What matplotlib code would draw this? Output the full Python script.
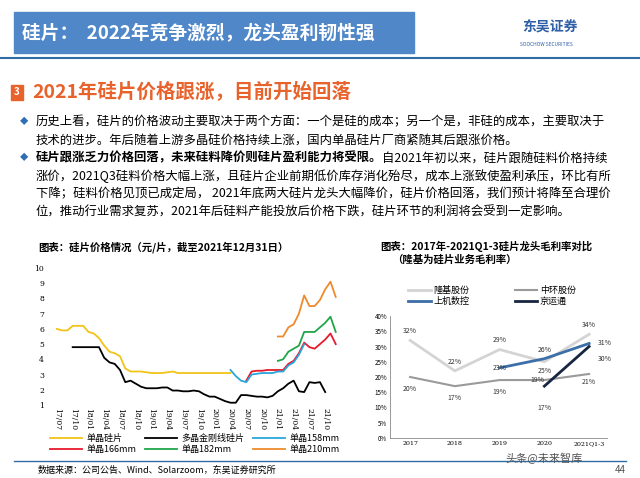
import numpy as np
import matplotlib.pyplot as plt
from matplotlib.lines import Line2D
from matplotlib.text import Annotation

plt.rcParams['font.family'] = ['Noto Sans CJK SC', 'DejaVu Sans']

# ---- left chart data: monthly, index 0 = 2017/07 ----
tick_labels = ['17/07', '17/10', '18/01', '18/04', '18/07', '18/10', '19/01', '19/04',
               '19/07', '19/10', '20/01', '20/04', '20/07', '20/10', '21/01', '21/04',
               '21/07', '21/10']
mono = [6.0, 5.9, 5.9, 6.2, 6.2, 6.2, 5.8, 5.7, 5.4, 4.9, 4.5, 4.4, 4.2, 3.4, 3.2, 3.2,
        3.2, 3.15, 3.1, 3.1, 3.1, 3.15, 3.2, 3.1, 3.1, 3.1, 3.1, 3.1, 3.1, 3.1, 3.1, 3.1,
        3.1, 3.1]
mono_start = 0
multi = [4.8, 4.8, 4.8, 4.8, 4.8, 4.8, 4.1, 3.8, 3.7, 3.3, 2.5, 2.6, 2.4, 2.2, 2.1, 2.1,
         2.1, 2.15, 2.15, 1.95, 1.95, 1.9, 1.9, 1.95, 1.9, 1.7, 1.55, 1.55, 1.4, 1.25,
         1.15, 1.15, 1.65, 1.65, 1.6, 1.55, 1.55, 1.5, 1.6, 1.9, 2.1, 2.4, 2.6, 1.9, 1.85,
         2.5, 2.45, 2.5, 1.85]
multi_start = 3
m158 = [3.3, 2.9, 2.6, 2.5, 3.0, 3.05, 3.1, 3.1, 3.1, 3.2, 3.2, 3.6, 3.8, 4.3, 5.0]
m158_start = 33
m166 = [2.6, 3.2, 3.25, 3.25, 3.3, 3.3, 3.3, 3.3, 3.7, 3.9, 4.4, 5.1, 4.8, 4.7, 5.0,
        5.3, 5.7, 5.0]
m166_start = 36
m182 = [3.9, 4.0, 4.5, 4.7, 4.9, 5.8, 5.8, 5.8, 6.1, 6.4, 6.8, 5.8]
m182_start = 42
m210 = [5.5, 5.5, 6.1, 6.3, 7.0, 8.2, 7.5, 7.5, 7.9, 8.6, 9.1, 8.1]
m210_start = 42

# ---- right chart data ----
years = ['2017', '2018', '2019', '2020', '2021Q1-3']
longi = [32, 22, 29, 25, 34]
zhonghuan = [20, 17, 19, 19, 21]
shangji = [np.nan, np.nan, 23, 26, 31]
jingyuntong = [np.nan, np.nan, np.nan, 17, 30]

fig = plt.figure(figsize=(6.4, 4.78), dpi=100)

def fy(y):
    return 1 - y / 478

def fx(x):
    return x / 640

# header
fig.patches.append(plt.Rectangle((fx(14), fy(53)), fx(400), 41 / 478, color='#4f87c9',
                                 transform=fig.transFigure))
fig.text(fx(22), fy(33), '硅片：  2022年竞争激烈，龙头盈利韧性强', color='white',
         fontsize=13.5, fontweight='bold', va='center')
fig.text(fx(522), fy(28), '东吴证券', color='#2f5fa6', fontsize=10, fontweight='bold', va='center')
fig.text(fx(520), fy(44), 'SOOCHOW SECURITIES', color='#2f5fa6', fontsize=3.5, va='center')
fig.add_artist(Line2D([0, 1], [fy(58), fy(58)], color='#2e6da4', lw=1.5))
fig.patches.append(plt.Rectangle((fx(11), fy(100)), fx(12), 15 / 478, color='#e8632b',
                                 transform=fig.transFigure))
fig.text(fx(17), fy(92.5), '3', color='white', fontsize=7, fontweight='bold', ha='center', va='center')
fig.text(fx(32), fy(92), '2021年硅片价格跟涨，目前开始回落', color='#e8632b',
         fontsize=14, fontweight='bold', va='center')

# body text
fs = 8.9
lines = [
    (122, '历史上看，硅片的价格波动主要取决于两个方面：一个是硅的成本；另一个是，非硅的成本，主要取决于'),
    (140, '技术的进步。年后随着上游多晶硅价格持续上涨，国内单晶硅片厂商紧随其后跟涨价格。'),
    (176, '涨价，2021Q3硅料价格大幅上涨，且硅片企业前期低价库存消化殆尽，成本上涨致使盈利承压，环比有所'),
    (194, '下降；硅料价格见顶已成定局， 2021年底两大硅片龙头大幅降价，硅片价格回落，我们预计将降至合理价'),
    (212, '位，推动行业需求复苏，2021年后硅料产能投放后价格下跌，硅片环节的利润将会受到一定影响。'),
]
for y, s in lines:
    fig.text(fx(36), fy(y), s, fontsize=fs, va='center')
for y in (122, 158):
    fig.text(fx(20), fy(y), '◆', fontsize=6, va='center', color='#2f6db5')
t = fig.text(fx(36), fy(158), '硅片跟涨乏力价格回落，未来硅料降价则硅片盈利能力将受限。',
             fontsize=fs, fontweight='bold', va='center')
fig.add_artist(Annotation('自2021年初以来，硅片跟随硅料价格持续', xy=(1, 0.5), xycoords=t,
                          fontsize=fs, va='center', annotation_clip=False))

fig.text(fx(38), fy(247), '图表：硅片价格情况（元/片，截至2021年12月31日）', fontsize=7.5,
         fontweight='bold', va='center')
fig.text(fx(380), fy(246), '图表：2017年-2021Q1-3硅片龙头毛利率对比', fontsize=7.5,
         fontweight='bold', va='center')
fig.text(fx(392), fy(260), '（隆基为硅片业务毛利率）', fontsize=7.5, fontweight='bold', va='center')

# left chart
ax = fig.add_axes([fx(49), fy(405), fx(292), 137 / 478])
series = [(mono, mono_start, '#f2c318', '单晶硅片'),
          (m166, m166_start, '#e8192c', '单晶166mm'),
          (multi, multi_start, '#000000', '多晶金刚线硅片'),
          (m182, m182_start, '#1fa64a', '单晶182mm'),
          (m158, m158_start, '#2aa5dc', '单晶158mm'),
          (m210, m210_start, '#ef8a2c', '单晶210mm')]
for vals, start, c, lab in series:
    ax.plot(np.arange(start, start + len(vals)), vals, color=c, lw=1.3, label=lab)
ax.set_xlim(-1.5, 54)
ax.set_ylim(1, 10)
ax.set_yticks(range(1, 11))
ax.set_xticks(np.arange(0, 54, 3))
ax.set_xticklabels(tick_labels, rotation=-90, fontsize=5.5, family='serif')
ax.tick_params(axis='y', labelsize=5.5, length=0)
ax.tick_params(axis='x', length=0, pad=2)
for lab in ax.get_yticklabels():
    lab.set_family('serif')
for s in ax.spines.values():
    s.set_visible(False)
ax.legend(loc='upper left', bbox_to_anchor=(fx(42), fy(426)), bbox_transform=fig.transFigure,
          ncol=3, fontsize=6.5, frameon=False, handlelength=3.5, columnspacing=1.0,
          handletextpad=0.5, labelspacing=0.2)

# right chart
ax2 = fig.add_axes([fx(390), fy(438), fx(217), 122 / 478])
x = np.arange(len(years))
ax2.plot(x, longi, color='#d4d4d4', lw=2, label='隆基股份')
ax2.plot(x, shangji, color='#3c6ea8', lw=2, label='上机数控')
ax2.plot(x, zhonghuan, color='#9a9a9a', lw=1.5, label='中环股份')
ax2.plot(x, jingyuntong, color='#172640', lw=2, label='京运通')
ax2.set_xlim(-0.45, 4.4)
ax2.set_ylim(0, 40)
ax2.set_yticks(range(0, 41, 5))
ax2.set_yticklabels([f'{v}%' for v in range(0, 41, 5)], fontsize=4.5)
ax2.set_xticks(x)
ax2.set_xticklabels(years, fontsize=4.5, family='serif')
ax2.tick_params(length=0, pad=2)
for s in ('top', 'right'):
    ax2.spines[s].set_visible(False)
for s in ('left', 'bottom'):
    ax2.spines[s].set_color('#888888')
    ax2.spines[s].set_linewidth(0.6)
lab_kw = dict(fontsize=5, ha='center', va='center', color='#333333')
offs_l = [3, 3, 3, -3, 3]
offs_z = [-4, -4, -4, 0, -2.5]
for i in range(5):
    ax2.text(i, longi[i] + offs_l[i], f'{longi[i]}%', **lab_kw)
    ax2.text(i + (-0.15 if i == 3 else 0), zhonghuan[i] + offs_z[i], f'{zhonghuan[i]}%', **lab_kw)
ax2.text(2, 23, '23%', **lab_kw)
ax2.text(3, 29, '26%', **lab_kw)
ax2.text(4.35, 31, '31%', **lab_kw)
ax2.text(3, 10, '17%', **lab_kw)
ax2.text(4.35, 26, '30%', **lab_kw)
ax2.legend(loc='upper left', bbox_to_anchor=(fx(400), fy(278)), bbox_transform=fig.transFigure,
           ncol=2, fontsize=6.5, frameon=False, handlelength=2.5, columnspacing=5,
           handletextpad=0.3, labelspacing=0.2)

# footer
fig.add_artist(Line2D([fx(14), fx(626)], [fy(461), fy(461)], color='#2e6da4', lw=1))
fig.text(fx(38), fy(470), '数据来源：公司公告、Wind、Solarzoom，东吴证券研究所', fontsize=6.5, va='center')
fig.text(fx(505), fy(458), '头条@未来智库', fontsize=8, va='center', color='#555555')
fig.text(fx(615), fy(470), '44', fontsize=7, va='center', color='#555555')

fig.savefig('out.png', dpi=100)
